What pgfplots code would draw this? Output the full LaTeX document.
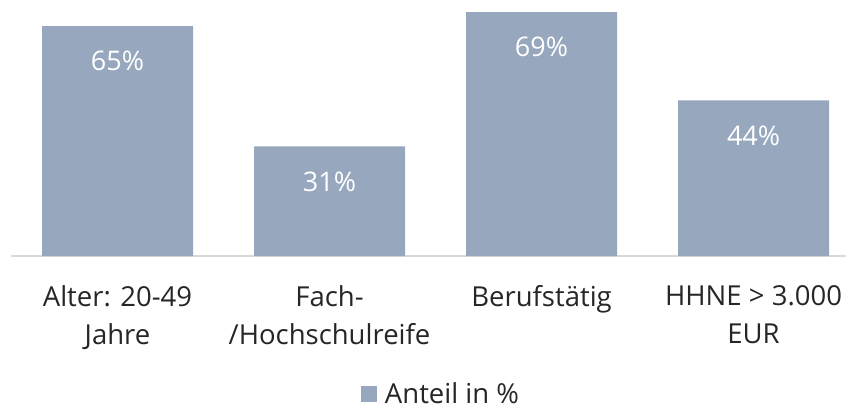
\documentclass[border=0pt]{standalone}
\usepackage{fontspec}
\setmainfont{Open Sans}
\usepackage{pgfplots}
\pgfplotsset{compat=1.18}
\definecolor{barc}{RGB}{151,168,190}
\definecolor{txt}{RGB}{38,38,38}
\definecolor{axc}{RGB}{217,217,217}
\begin{document}
\begin{tikzpicture}[x=1pt,y=1pt]
\useasboundingbox (0,0) rectangle (846,410);
\begin{axis}[
  at={(11.5pt,154pt)}, anchor=south west,
  scale only axis, width=834.5pt, height=256pt,
  xmin=-0.5, xmax=3.436, ymin=0, ymax=72.4,
  /pgf/number format/assume math mode=true,
  axis x line*=bottom, axis y line=none,
  x axis line style={draw=axc, line width=1.5pt, -},
  major tick length=0pt,
  xtick={0,1,2,3},
  xticklabels={{Alter: 20-49\\Jahre},{Fach-\\/Hochschulreife},{Berufstätig},{HHNE > 3.000\\EUR}},
  xticklabel style={font=\fontsize{27.5}{38}\selectfont, text=txt, align=center, anchor=north, inner sep=0pt, yshift=-29pt},
  ytick=\empty,
  ybar, bar width=151pt,
  nodes near coords={\pgfmathprintnumber{\pgfplotspointmeta}\%},
  every node near coord/.append style={anchor=center, yshift=-35pt, text=white, font=\fontsize{27}{32}\selectfont},
  legend style={at={(0.515,-0.54)}, anchor=center, draw=none, fill=none, font=\fontsize{27.5}{30}\selectfont, text=txt, inner sep=0pt, /tikz/every odd column/.append style={column sep=6pt}},
  legend image code/.code={\fill[barc] (0pt,-7.5pt) rectangle (15.5pt,8pt);},
  clip=false,
]
\addplot[fill=barc, draw=none] coordinates {(0,65) (1,31) (2,69) (3,44)};
\addlegendentry{Anteil in \%}
\end{axis}
\end{tikzpicture}
\end{document}
